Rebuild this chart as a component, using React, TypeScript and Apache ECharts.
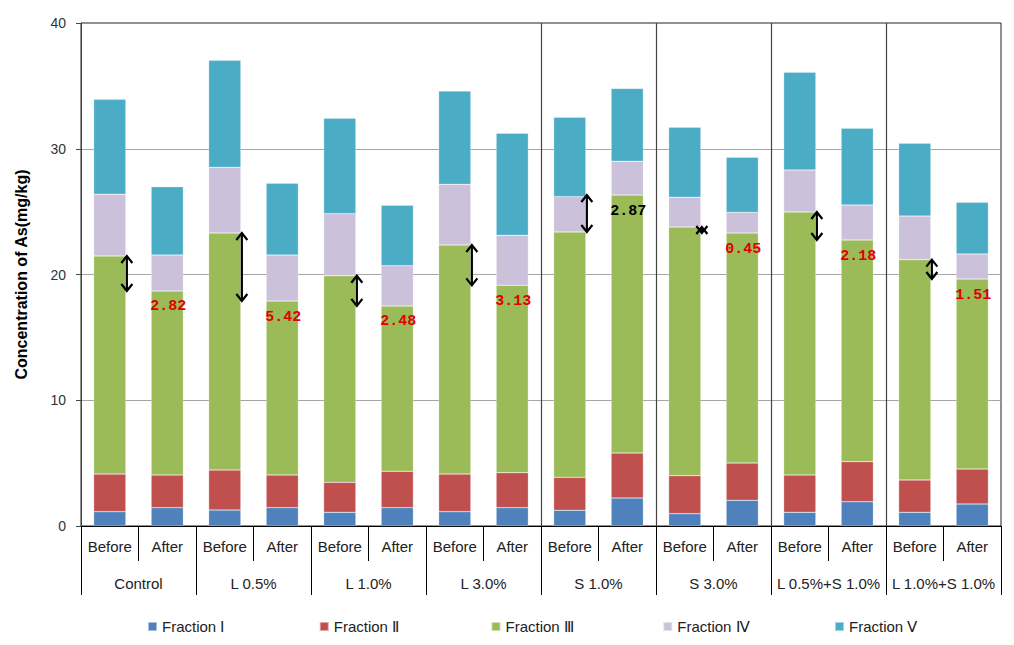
import React, { useEffect, useRef } from 'react';
import * as echarts from 'echarts';

const groups = ['Control', 'L 0.5%', 'L 1.0%', 'L 3.0%', 'S 1.0%', 'S 3.0%', 'L 0.5%+S 1.0%', 'L 1.0%+S 1.0%'];
const stages = ['Before', 'After'];
const categories = groups.flatMap(() => stages);

const seriesNames = ['Fraction Ⅰ', 'Fraction Ⅱ', 'Fraction Ⅲ', 'Fraction Ⅳ', 'Fraction Ⅴ'];

const fraction1 = [1.14, 1.46, 1.27, 1.46, 1.09, 1.46, 1.14, 1.46, 1.25, 2.23, 0.98, 2.04, 1.09, 1.93, 1.09, 1.75];
const fraction2 = [2.99, 2.60, 3.18, 2.60, 2.38, 2.89, 2.99, 2.78, 2.62, 3.57, 3.02, 2.97, 2.97, 3.19, 2.57, 2.78];
const fraction3 = [17.34, 14.63, 18.85, 13.83, 16.43, 13.15, 18.22, 14.90, 19.51, 20.52, 19.78, 18.29, 20.91, 17.62, 17.52, 15.11];
const fraction4 = [4.91, 2.86, 5.22, 3.66, 4.94, 3.20, 4.82, 3.98, 2.81, 2.68, 2.36, 1.64, 3.34, 2.79, 3.47, 1.99];
const fraction5 = [7.55, 5.43, 8.51, 5.70, 7.58, 4.80, 7.42, 8.11, 6.31, 5.80, 5.56, 4.38, 7.77, 6.10, 5.78, 4.11];

const fractions = [fraction1, fraction2, fraction3, fraction4, fraction5];

const diffLabels = ['2.82', '5.42', '2.48', '3.13', '2.87', '0.45', '2.18', '1.51'];
const diffIncrease = [false, false, false, false, true, false, false, false];

const dividedGroups = ['S 1.0%', 'S 3.0%', 'L 0.5%+S 1.0%', 'L 1.0%+S 1.0%'];

const yMin = 0;
const yMax = 40;
const yInterval = 10;

const colors = ['#4F81BD', '#C0504D', '#9BBB59', '#CCC1DA', '#4BACC6'];

// top of Fraction III (cumulative F1+F2+F3) for each bar
const greenTops = categories.map((_, i) => fraction1[i] + fraction2[i] + fraction3[i]);

const BAR_RATIO = 0.56;

export default function App() {
  const ref = useRef<HTMLDivElement>(null);

  useEffect(() => {
    if (!ref.current) return;
    const chart = echarts.init(ref.current, undefined, { renderer: 'svg' });

    const barSeries = seriesNames.map((name, k) => ({
      name,
      type: 'bar',
      stack: 'total',
      barWidth: `${BAR_RATIO * 100}%`,
      xAxisIndex: 0,
      yAxisIndex: 0,
      data: fractions[k],
      itemStyle: { color: colors[k], borderColor: 'rgba(255,255,255,0.5)', borderWidth: 0.5 },
      emphasis: { disabled: true },
    }));

    const separatorSeries = {
      type: 'custom',
      name: 'separators',
      xAxisIndex: 0,
      yAxisIndex: 0,
      silent: true,
      z: 5,
      encode: { x: 0, y: [1, 2] },
      data: dividedGroups.map((g) => [groups.indexOf(g) * 2, yMin, yMax]),
      renderItem: (params: any, api: any) => {
        const idx = api.value(0);
        const p0 = api.coord([idx, api.value(1)]);
        const p1 = api.coord([idx, api.value(2)]);
        const w = api.size([1, 0])[0];
        const x = Math.round(p0[0] - w / 2) + 0.5;
        return {
          type: 'line',
          shape: { x1: x, y1: p1[1], x2: x, y2: p0[1] },
          style: { stroke: '#444', lineWidth: 1.2 },
        };
      },
    };

    const arrowSeries = {
      type: 'custom',
      name: 'arrows',
      xAxisIndex: 0,
      yAxisIndex: 0,
      silent: true,
      z: 6,
      encode: { x: 0, y: [1, 2] },
      data: groups.map((_, g) => [g * 2, greenTops[g * 2], greenTops[g * 2 + 1]]),
      renderItem: (params: any, api: any) => {
        const idx = api.value(0);
        const a = api.coord([idx, api.value(1)]);
        const b = api.coord([idx, api.value(2)]);
        const w = api.size([1, 0])[0];
        const x = a[0] + (w * BAR_RATIO) / 2 + 1;
        const yTop = Math.min(a[1], b[1]);
        const yBot = Math.max(a[1], b[1]);
        const hw = 5.5;
        const hh = 7;
        const st = { stroke: '#000', lineWidth: 2.2, fill: 'none' };
        return {
          type: 'group',
          children: [
            { type: 'line', shape: { x1: x, y1: yTop, x2: x, y2: yBot }, style: st },
            { type: 'polyline', shape: { points: [[x - hw, yTop + hh], [x, yTop], [x + hw, yTop + hh]] }, style: st },
            { type: 'polyline', shape: { points: [[x - hw, yBot - hh], [x, yBot], [x + hw, yBot - hh]] }, style: st },
          ],
        };
      },
    };

    const labelSeries = {
      type: 'custom',
      name: 'diffLabels',
      xAxisIndex: 0,
      yAxisIndex: 0,
      silent: true,
      z: 7,
      encode: { x: 0, y: 1 },
      data: groups.map((_, g) => [g * 2 + 1, greenTops[g * 2 + 1], g]),
      renderItem: (params: any, api: any) => {
        const idx = api.value(0);
        const g = api.value(2);
        const p = api.coord([idx, api.value(1)]);
        return {
          type: 'text',
          x: p[0] + 1,
          y: p[1] + 16,
          style: {
            text: diffLabels[g],
            fill: diffIncrease[g] ? '#000' : '#E00000',
            font: 'bold 15px "Liberation Mono", "DejaVu Sans Mono", monospace',
            align: 'center',
            verticalAlign: 'middle',
          },
        };
      },
    };

    const legends = seriesNames.map((name, k) => ({
      data: [name],
      left: 147 + k * 171.75,
      top: 619,
      itemWidth: 9,
      itemHeight: 9,
      icon: 'rect',
      padding: 0,
      textStyle: { fontSize: 15, color: '#222', fontFamily: '"Liberation Sans", Arial, sans-serif' },
      selectedMode: false,
    }));

    chart.setOption({
      animation: false,
      textStyle: { fontFamily: '"Liberation Sans", Arial, sans-serif' },
      grid: {
        left: 81,
        right: 13,
        top: 23,
        bottom: 119,
        show: true,
        borderColor: '#222',
        borderWidth: 1,
        backgroundColor: 'transparent',
        containLabel: false,
      },
      legend: legends,
      xAxis: [
        {
          type: 'category',
          data: categories,
          position: 'bottom',
          axisLine: { show: true, lineStyle: { color: '#000', width: 1 } },
          axisTick: { show: true, interval: 0, length: 35, alignWithLabel: false, lineStyle: { color: '#000' } },
          axisLabel: { interval: 0, margin: 13, fontSize: 15, color: '#222' },
          splitLine: { show: false },
        },
        {
          type: 'category',
          data: groups,
          position: 'bottom',
          offset: 0,
          axisLine: { show: false },
          axisTick: { show: true, interval: 0, length: 69, alignWithLabel: false, lineStyle: { color: '#000' } },
          axisLabel: { interval: 0, margin: 50, fontSize: 15, color: '#222' },
          splitLine: { show: false },
        },
      ],
      yAxis: {
        type: 'value',
        min: yMin,
        max: yMax,
        interval: yInterval,
        name: 'Concentration of As(mg/kg)',
        nameLocation: 'middle',
        nameGap: 52,
        nameTextStyle: { fontSize: 16, fontWeight: 'bold', color: '#000' },
        axisLine: { show: true, lineStyle: { color: '#444' } },
        axisTick: { show: true, length: 5, lineStyle: { color: '#444' } },
        axisLabel: { fontSize: 14, color: '#333', margin: 15 },
        splitLine: { show: true, showMaxLine: false, lineStyle: { color: '#A6A6A6', width: 1 } },
      },
      series: [...barSeries, separatorSeries, arrowSeries, labelSeries],
    });

    return () => chart.dispose();
  }, []);

  return (
    <div
      ref={ref}
      style={{ position: 'fixed', left: 0, top: 0, width: 1014, height: 645, background: '#fff' }}
    />
  );
}
